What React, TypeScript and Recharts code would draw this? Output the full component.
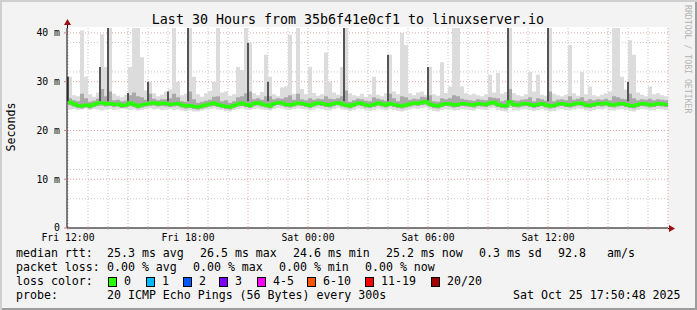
import React from 'react';
import { ComposedChart, Area, Bar, Line, XAxis, YAxis, CartesianGrid } from 'recharts';

// SmokePing "Last 30 Hours" – one sample every 12 min (0.2 h)
const STEP_H = 0.2;

const medianRtt = [
  25.8, 25.4, 25.1, 25.0, 25.2, 25.0, 25.3, 25.6, 25.7, 25.4,
  25.5, 25.3, 25.4, 25.1, 25.2, 25.6, 25.3, 25.0, 25.2, 25.4,
  25.5, 25.7, 25.4, 25.6, 25.5, 25.3, 25.4, 25.5, 25.2, 25.0,
  25.1, 24.9, 24.8, 25.0, 25.2, 25.4, 25.6, 25.3, 25.1, 24.9,
  24.8, 25.1, 25.4, 25.6, 25.3, 25.1, 25.5, 25.7, 25.4, 25.2,
  25.0, 25.5, 25.7, 25.6, 25.3, 25.2, 25.4, 25.6, 25.5, 25.3,
  25.1, 25.4, 25.6, 25.5, 25.3, 25.2, 25.5, 25.7, 25.4, 25.2,
  25.0, 25.3, 25.6, 25.5, 25.2, 25.1, 25.3, 25.6, 25.4, 25.2,
  25.5, 25.3, 25.1, 25.0, 25.2, 25.4, 25.6, 25.5, 25.8, 25.9,
  25.4, 25.1, 25.0, 25.3, 25.5, 25.4, 25.2, 25.3, 25.5, 25.4,
  25.3, 25.2, 25.5, 25.4, 25.3, 25.6, 25.8, 25.3, 25.1, 25.0,
  25.9, 25.3, 25.2, 25.4, 25.5, 25.3, 25.1, 25.3, 25.5, 25.2,
  25.0, 25.1, 25.4, 25.5, 25.3, 25.2, 25.4, 25.6, 25.5, 25.2,
  25.1, 25.3, 25.5, 25.4, 25.6, 25.3, 25.2, 25.4, 25.5, 25.3,
  25.1, 25.0, 25.3, 25.5, 25.4, 25.2, 25.3, 25.5, 25.4, 25.3,
  25.3,
];

const minPing = [
  24.3, 24.4, 24.2, 24.3, 24.5, 24.2, 24.4, 24.3, 24.1, 24.3,
  24.4, 24.2, 24.3, 24.5, 24.4, 24.2, 24.3, 24.1, 24.2, 24.4,
  24.5, 24.3, 24.4, 24.2, 24.3, 24.4, 24.2, 24.3, 24.1, 24.0,
  24.1, 23.9, 23.9, 24.1, 24.3, 24.4, 24.5, 24.3, 24.2, 24.0,
  23.9, 24.2, 24.4, 24.5, 24.3, 24.2, 24.4, 24.5, 24.3, 24.2,
  24.1, 24.4, 24.6, 24.5, 24.3, 24.2, 24.4, 24.5, 24.4, 24.3,
  24.1, 24.3, 24.5, 24.4, 24.2, 24.1, 24.4, 24.6, 24.3, 24.2,
  24.0, 24.2, 24.5, 24.4, 24.1, 24.0, 24.2, 24.5, 24.3, 24.1,
  24.4, 24.2, 24.0, 23.9, 24.1, 24.3, 24.5, 24.4, 24.6, 24.7,
  24.3, 24.0, 23.9, 24.2, 24.4, 24.3, 24.1, 24.2, 24.4, 24.3,
  24.2, 24.1, 24.4, 24.3, 24.2, 24.5, 24.6, 24.2, 24.0, 23.9,
  24.6, 24.2, 24.1, 24.3, 24.4, 24.2, 24.0, 24.2, 24.4, 24.1,
  23.9, 24.0, 24.3, 24.4, 24.2, 24.1, 24.3, 24.5, 24.4, 24.1,
  24.0, 24.2, 24.4, 24.3, 24.5, 24.2, 24.1, 24.3, 24.4, 24.2,
  24.0, 23.9, 24.2, 24.4, 24.3, 24.1, 24.2, 24.4, 24.3, 24.2,
  24.2,
];

const lowQuart = [
  25.2, 24.9, 24.6, 24.5, 24.7, 24.5, 24.8, 25.0, 25.1, 24.9,
  25.0, 24.8, 24.9, 24.6, 24.7, 25.0, 24.8, 24.5, 24.7, 24.9,
  25.0, 25.1, 24.9, 25.0, 24.9, 24.8, 24.9, 25.0, 24.7, 24.5,
  24.6, 24.4, 24.3, 24.5, 24.7, 24.9, 25.0, 24.8, 24.6, 24.4,
  24.3, 24.6, 24.9, 25.0, 24.8, 24.6, 25.0, 25.1, 24.9, 24.7,
  24.5, 25.0, 25.2, 25.1, 24.8, 24.7, 24.9, 25.1, 25.0, 24.8,
  24.6, 24.9, 25.1, 25.0, 24.8, 24.7, 25.0, 25.2, 24.9, 24.7,
  24.5, 24.8, 25.1, 25.0, 24.7, 24.6, 24.8, 25.1, 24.9, 24.7,
  25.0, 24.8, 24.6, 24.5, 24.7, 24.9, 25.1, 25.0, 25.2, 25.3,
  24.9, 24.6, 24.5, 24.8, 25.0, 24.9, 24.7, 24.8, 25.0, 24.9,
  24.8, 24.7, 25.0, 24.9, 24.8, 25.1, 25.2, 24.8, 24.6, 24.5,
  25.3, 24.8, 24.7, 24.9, 25.0, 24.8, 24.6, 24.8, 25.0, 24.7,
  24.5, 24.6, 24.9, 25.0, 24.8, 24.7, 24.9, 25.1, 25.0, 24.7,
  24.6, 24.8, 25.0, 24.9, 25.1, 24.8, 24.7, 24.9, 25.0, 24.8,
  24.6, 24.5, 24.8, 25.0, 24.9, 24.7, 24.8, 25.0, 24.9, 24.8,
  24.8,
];

const highQuart = [
  26.6, 26.2, 26.0, 27.5, 26.6, 25.9, 26.1, 26.5, 28.5, 27.0,
  28.0, 26.2, 26.3, 26.0, 26.1, 27.2, 27.8, 27.0, 26.8, 26.3,
  27.5, 26.5, 26.2, 26.4, 26.4, 26.6, 27.5, 26.8, 26.0, 25.9,
  28.0, 26.4, 25.7, 25.9, 26.1, 26.3, 26.9, 27.0, 26.0, 26.2,
  25.7, 26.0, 26.8, 27.0, 27.6, 28.0, 26.4, 26.6, 26.3, 27.0,
  27.0, 26.4, 26.6, 26.5, 26.8, 27.2, 26.3, 27.5, 26.4, 26.2,
  26.6, 26.3, 26.5, 26.4, 27.0, 26.5, 26.4, 26.6, 27.0, 28.2,
  25.9, 26.2, 26.5, 26.4, 26.1, 26.0, 26.8, 26.5, 26.3, 26.1,
  27.5, 26.6, 26.0, 27.0, 26.8, 26.3, 26.5, 26.4, 26.9, 26.8,
  27.2, 26.0, 25.9, 26.6, 26.4, 26.6, 27.2, 27.0, 26.5, 26.3,
  26.2, 26.1, 26.4, 26.3, 26.2, 26.8, 26.7, 26.6, 26.0, 26.2,
  28.5, 26.2, 26.1, 26.3, 26.4, 26.8, 26.0, 26.6, 26.4, 26.1,
  28.0, 26.0, 26.3, 26.4, 26.2, 27.0, 26.3, 26.5, 26.8, 26.1,
  26.4, 26.2, 26.4, 26.3, 26.5, 26.2, 27.0, 26.8, 26.5, 26.4,
  27.5, 26.6, 26.2, 26.4, 26.3, 26.5, 26.2, 26.4, 26.3, 26.2,
  26.2,
];

const maxPing = [
  31.0, 27.2, 27.0, 40.5, 31.0, 27.4, 26.9, 27.8, 39.7, 33.0,
  41.0, 27.5, 27.1, 26.8, 27.3, 33.0, 41.0, 41.0, 35.0, 28.2,
  30.0, 27.6, 27.0, 27.3, 28.0, 28.4, 41.0, 30.0, 27.2, 27.5,
  41.0, 31.0, 27.4, 26.9, 27.6, 28.1, 30.0, 41.0, 27.8, 28.0,
  27.1, 27.4, 33.0, 32.4, 41.0, 38.0, 27.6, 27.2, 27.9, 35.5,
  31.0, 27.4, 27.0, 28.8, 29.0, 39.6, 27.5, 41.0, 28.5, 27.4,
  33.0, 27.7, 27.1, 27.4, 36.0, 30.0, 27.8, 27.3, 33.0, 41.0,
  27.6, 27.2, 27.0, 27.5, 26.9, 27.4, 31.0, 27.3, 27.0, 27.6,
  35.5, 28.0, 27.4, 40.0, 37.5, 27.6, 27.2, 27.8, 28.0, 27.3,
  33.0, 27.4, 27.1, 34.0, 27.7, 29.0, 41.0, 41.0, 29.0, 27.6,
  27.3, 27.5, 27.2, 27.0, 27.4, 31.4, 27.8, 31.8, 27.5, 27.9,
  41.0, 27.6, 27.2, 27.0, 27.4, 32.0, 28.0, 31.4, 27.3, 27.1,
  41.0, 27.5, 27.2, 27.0, 27.3, 37.5, 27.6, 27.1, 32.0, 27.4,
  29.0, 27.2, 27.0, 27.3, 27.6, 28.0, 41.0, 41.0, 31.0, 28.4,
  38.5, 35.5, 27.8, 27.3, 27.0, 29.0, 27.4, 27.6, 27.2, 27.0,
  27.0,
];

// dark (dense) smoke spikes: sample index -> top value (ms)
const darkSpikeIdx = [0, 8, 10, 15, 20, 25, 30, 45, 50, 69, 80, 90, 110, 120, 140];
const darkSpikeTop = [31, 33, 41, 27.7, 30, 28, 41, 38, 30, 41, 35.5, 33, 41, 41, 30];

const hourTicks = Array.from({ length: 31 }, (_, h) => h);
const xTickLabels: Record<number, string> = {
  0: 'Fri 12:00',
  6: 'Fri 18:00',
  12: 'Sat 00:00',
  18: 'Sat 06:00',
  24: 'Sat 12:00',
};
const yTicks = [0, 10, 20, 30, 40];
const yMinorGrid = [2, 4, 6, 8, 12, 14, 16, 18, 22, 24, 26, 28, 32, 34, 36, 38];
const yMajorGrid = [10, 20, 30, 40];
const xMinorGrid = hourTicks.filter((h) => h % 3 !== 0);
const xMajorGrid = hourTicks.filter((h) => h % 3 === 0);

const lossColors = [
  { label: '0', color: '#26ff00', x: 108 },
  { label: '1', color: '#00b8ff', x: 146 },
  { label: '2', color: '#0059ff', x: 183 },
  { label: '3', color: '#7e00ff', x: 219 },
  { label: '4-5', color: '#ff00ff', x: 257 },
  { label: '6-10', color: '#ff5500', x: 307 },
  { label: '11-19', color: '#ff0000', x: 365 },
  { label: '20/20', color: '#a10000', x: 431 },
];

const data = medianRtt.map((m, i) => {
  const k = darkSpikeIdx.indexOf(i);
  return {
    t: i * STEP_H,
    median: m,
    smoke: [minPing[i], maxPing[i]],
    core: [lowQuart[i], highQuart[i]],
    dark: [26, k >= 0 ? darkSpikeTop[k] : 26],
  };
});

const W = 697;
const H = 310;
const PL = 67;
const PR = 668;
const PT = 28;
const PB = 228;
const MONO = '"DejaVu Sans Mono", monospace';

function Legend() {
  const txt = { fontFamily: MONO, fontSize: 11.6, fill: '#000' } as const;
  return (
    <svg width={W} height={H} style={{ position: 'absolute', left: 0, top: 0, pointerEvents: 'none' }}>
      <text x={348} y={23.5} textAnchor="middle" style={{ ...txt, fontSize: 13.3 }}>
        Last 30 Hours from 35b6f41e0cf1 to linuxserver.io
      </text>
      <text transform="translate(15,127) rotate(-90)" textAnchor="middle" style={txt}>Seconds</text>
      <text transform="translate(685,5) rotate(90)" style={{ fontFamily: MONO, fontSize: 8.2, fill: '#b4b4b4' }}>
        RRDTOOL / TOBI OETIKER
      </text>

      {/* axis extensions + arrows */}
      <line x1={PL + 0.5} y1={PT} x2={PL + 0.5} y2={22} stroke="#000" />
      <line x1={PR} y1={PB + 0.5} x2={672} y2={PB + 0.5} stroke="#000" />
      <polygon points="64,25 71,25 67.5,19" fill="#9b1010" />
      <polygon points="669,225 669,232 675,228.5" fill="#9b1010" />

      <text y={257} style={txt}>
        <tspan x={16}>median rtt:</tspan>
        <tspan x={107}>25.3 ms avg</tspan>
        <tspan x={200}>26.5 ms max</tspan>
        <tspan x={293}>24.6 ms min</tspan>
        <tspan x={386}>25.2 ms now</tspan>
        <tspan x={479}>0.3 ms sd</tspan>
        <tspan x={558}>92.8</tspan>
        <tspan x={607}>am/s</tspan>
      </text>
      <text y={271} style={txt}>
        <tspan x={16}>packet loss:</tspan>
        <tspan x={107}>0.00 % avg</tspan>
        <tspan x={193}>0.00 % max</tspan>
        <tspan x={279}>0.00 % min</tspan>
        <tspan x={365}>0.00 % now</tspan>
      </text>
      <text x={16} y={285} style={txt}>loss color:</text>
      {lossColors.map((c) => (
        <g key={c.label}>
          <rect x={c.x + 0.5} y={277.5} width={8} height={9} fill={c.color} stroke="#000" />
          <text x={c.x + 16} y={285} style={txt}>{c.label}</text>
        </g>
      ))}
      <text y={299} style={txt}>
        <tspan x={16}>probe:</tspan>
        <tspan x={107}>20 ICMP Echo Pings (56 Bytes) every 300s</tspan>
        <tspan x={513}>Sat Oct 25 17:50:48 2025</tspan>
      </text>
    </svg>
  );
}

export default function App() {
  return (
    <div
      style={{
        position: 'absolute',
        left: 0,
        top: 0,
        width: W,
        height: H,
        background: '#f3f3f3',
        boxShadow: 'inset 2px 2px 0 #cfcfcf, inset -2px -2px 0 #9c9c9c',
        overflow: 'hidden',
      }}
    >
      <div style={{ position: 'absolute', left: PL, top: PT - 1, width: PR - PL, height: PB - PT + 1, background: '#fff' }} />
      <div style={{ position: 'absolute', left: 0, top: 0 }}>
        <ComposedChart
          width={W}
          height={H}
          data={data}
          margin={{ top: PT, right: W - PR, bottom: H - PB - 30, left: 0 }}
        >
          <CartesianGrid
            verticalValues={xMinorGrid}
            horizontalValues={yMinorGrid}
            stroke="#c4c4c4"
            strokeDasharray="1 2"
          />
          <CartesianGrid
            verticalValues={xMajorGrid}
            horizontalValues={yMajorGrid}
            stroke="#e6a2a2"
            strokeDasharray="1 2"
          />
          <XAxis
            dataKey="t"
            type="number"
            domain={[-0.05, 30]}
            ticks={hourTicks}
            interval={0}
            allowDataOverflow
            height={30}
            tickFormatter={(h: number) => xTickLabels[h] ?? ''}
            tick={{ fontFamily: MONO, fontSize: 9.8, fill: '#000' }}
            tickSize={2}
            tickMargin={4.5}
            tickLine={{ stroke: '#d8a0a0' }}
            axisLine={{ stroke: '#000' }}
          />
          <YAxis
            type="number"
            domain={[0, 41]}
            ticks={yTicks}
            allowDataOverflow
            width={PL}
            tickFormatter={(v: number) => (v === 0 ? '0' : `${v} m`)}
            tick={{ fontFamily: MONO, fontSize: 9.8, fill: '#000' }}
            tickSize={3}
            tickMargin={4}
            tickLine={{ stroke: '#d08080' }}
            axisLine={{ stroke: '#000' }}
          />
          <Area dataKey="smoke" type="stepAfter" fill="#dcdcdc" fillOpacity={1} stroke="none" isAnimationActive={false} />
          <Area dataKey="core" type="stepAfter" fill="#a9a9a9" fillOpacity={1} stroke="none" isAnimationActive={false} />
          <Bar dataKey="dark" barSize={2} fill="#555555" isAnimationActive={false} />
          <Line
            dataKey="median"
            type="stepAfter"
            stroke="#26ff00"
            strokeWidth={3}
            dot={false}
            isAnimationActive={false}
          />
        </ComposedChart>
      </div>
      <Legend />
    </div>
  );
}
